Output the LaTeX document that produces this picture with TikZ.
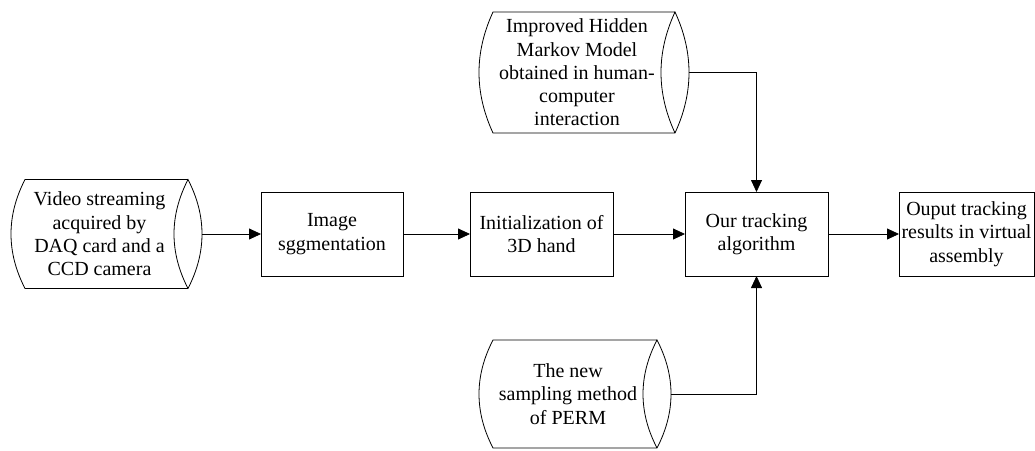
\documentclass[tikz,border=0pt]{standalone}
\usepackage{fontspec}
\setmainfont{Liberation Serif}
\usetikzlibrary{arrows.meta,calc}
\newcommand\storedline[1]{%
  \draw[line width=.8pt]
    ([xshift=14pt]#1.north east) -- (#1.north west)
    .. controls ($(#1.north west)!1/3!(#1.south west)+(-18.67,0)$) and ($(#1.north west)!2/3!(#1.south west)+(-18.67,0)$) .. (#1.south west)
    -- ([xshift=14pt]#1.south east)
    .. controls ($([xshift=14pt]#1.north east)!2/3!([xshift=14pt]#1.south east)+(18.67,0)$) and ($([xshift=14pt]#1.north east)!1/3!([xshift=14pt]#1.south east)+(18.67,0)$) .. ([xshift=14pt]#1.north east)
    .. controls ($([xshift=14pt]#1.north east)!1/3!([xshift=14pt]#1.south east)+(-18.67,0)$) and ($([xshift=14pt]#1.north east)!2/3!([xshift=14pt]#1.south east)+(-18.67,0)$) .. ([xshift=14pt]#1.south east);}
\begin{document}
\begin{tikzpicture}[x=1pt,y=-1pt,
  txt/.style={font=\fontsize{20}{23.3}\selectfont, align=center, inner sep=0pt, outer sep=0pt},
  proc/.style={txt, draw, line width=.8pt, minimum height=84pt},
  stored/.style={txt},
  arr/.style={-{Triangle[length=12pt,width=11pt]}, line width=.8pt}]
\useasboundingbox (0,0) rectangle (1035,450);
\node[stored, minimum width=149pt, minimum height=109pt] (video) at (99.5,234) {Video streaming\\acquired by\\DAQ card and a\\CCD camera};
\node[stored, minimum width=168pt, minimum height=121pt] (hmm) at (577,72.5) {Improved Hidden\\Markov Model\\obtained in human-\\computer\\interaction};
\node[stored, minimum width=150pt, minimum height=108pt] (perm) at (568,394) {The new\\sampling method\\of PERM};
\node[proc, minimum width=142pt] (image) at (332,234) {Image\\sggmentation};
\node[proc, minimum width=143pt] (init) at (541.5,234) {Initialization of\\3D hand};
\node[proc, minimum width=143pt] (track) at (756.5,234) {Our tracking\\algorithm};
\node[proc, minimum width=135pt] (output) at (966.5,234) {Ouput tracking\\results in virtual\\assembly};
\storedline{video}
\storedline{hmm}
\storedline{perm}
\draw[arr] ([xshift=28pt]video.east) -- (image.west);
\draw[arr] (image.east) -- (init.west);
\draw[arr] (init.east) -- (track.west);
\draw[arr] (track.east) -- (output.west);
\draw[arr] ([xshift=28pt]hmm.east) -| (track.north);
\draw[arr] ([xshift=28pt]perm.east) -| (track.south);
\end{tikzpicture}
\end{document}
